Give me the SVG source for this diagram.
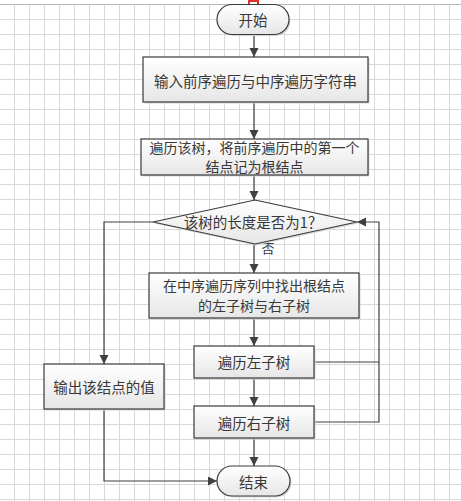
<svg xmlns="http://www.w3.org/2000/svg" width="461" height="501" viewBox="0 0 461 501">
<style>
.box{fill:url(#g);stroke:#3a3a3a;stroke-width:1.2}
.sh{fill:#d6d6d6}
.t{font-family:"Noto Sans CJK SC","Noto Sans",sans-serif;font-size:14.5px;fill:#383838;text-anchor:middle;dominant-baseline:central}
.t2{font-size:14px}
.c{fill:none;stroke:#404040;stroke-width:1.2}
</style>
<defs>
<linearGradient id="g" x1="0" y1="0" x2="0" y2="1">
<stop offset="0" stop-color="#ffffff"/>
<stop offset="1" stop-color="#e6e6e6"/>
</linearGradient>
<pattern id="grid" patternUnits="userSpaceOnUse" x="14" y="4" width="15" height="15">
<path d="M0.5 0V15M0 0.5H15" fill="none" stroke="#d9d9d9" stroke-width="1"/>
</pattern>
<marker id="a" markerUnits="userSpaceOnUse" markerWidth="10" markerHeight="10" refX="9" refY="4.5" orient="auto">
<path d="M0 0L9 4.5L0 9z" fill="#404040"/>
</marker>
</defs>
<rect width="461" height="501" fill="#fff"/>
<rect x="0" y="4" width="461" height="497" fill="url(#grid)"/>
<line x1="0" y1="4.5" x2="461" y2="4.5" stroke="#b8b8b8" stroke-width="1"/>
<rect x="249" y="1" width="9" height="6" fill="#fff" stroke="#e03030" stroke-width="2"/>

<g id="connectors">
<path class="c" d="M254 34V57" marker-end="url(#a)"/>
<path class="c" d="M254 102V139" marker-end="url(#a)"/>
<path class="c" d="M254 175V200" marker-end="url(#a)"/>
<path class="c" d="M254 244V273" marker-end="url(#a)"/>
<path class="c" d="M254 318V346" marker-end="url(#a)"/>
<path class="c" d="M254 378V406" marker-end="url(#a)"/>
<path class="c" d="M254 438V466" marker-end="url(#a)"/>
<path class="c" d="M153 222H104V364" marker-end="url(#a)"/>
<path class="c" d="M104 409V481H217" marker-end="url(#a)"/>
<path class="c" d="M314 362H379"/>
<path class="c" d="M314 422H379V222H357" marker-end="url(#a)"/>
<text class="t" x="268" y="247" style="font-size:13px">否</text>
</g>

<g id="start">
<rect class="sh" x="218.5" y="6" width="72" height="30" rx="15"/>
<rect class="box" x="217" y="4.5" width="72" height="30" rx="15"/>
<text class="t" x="253" y="19.5">开始</text>
</g>
<g id="input">
<rect class="sh" x="144.5" y="58.5" width="225" height="45"/>
<rect class="box" x="143" y="57" width="225" height="45"/>
<text class="t" x="255.5" y="80">输入前序遍历与中序遍历字符串</text>
</g>
<g id="root">
<rect class="sh" x="142.5" y="140.5" width="227" height="36"/>
<rect class="box" x="141" y="139" width="227" height="36"/>
<text class="t t2" x="254.5" y="146.5">遍历该树，将前序遍历中的第一个</text>
<text class="t t2" x="254.5" y="166">结点记为根结点</text>
</g>
<g id="decision">
<path class="sh" d="M256 201.5L358.5 223.5L256 245.5L154.5 223.5z"/>
<path class="box" d="M255 200L357 222L255 244L153 222z"/>
<text class="t" x="253" y="221.5">该树的长度是否为1？</text>
</g>
<g id="find">
<rect class="sh" x="150.5" y="274.5" width="210" height="45"/>
<rect class="box" x="149" y="273" width="210" height="45"/>
<text class="t t2" x="254" y="285">在中序遍历序列中找出根结点</text>
<text class="t t2" x="254" y="305">的左子树与右子树</text>
</g>
<g id="left">
<rect class="sh" x="195.5" y="347.5" width="120" height="32"/>
<rect class="box" x="194" y="346" width="120" height="32"/>
<text class="t" x="254" y="361.5">遍历左子树</text>
</g>
<g id="right">
<rect class="sh" x="195.5" y="407.5" width="120" height="32"/>
<rect class="box" x="194" y="406" width="120" height="32"/>
<text class="t" x="254" y="422">遍历右子树</text>
</g>
<g id="output">
<rect class="sh" x="45.5" y="365.5" width="120" height="45"/>
<rect class="box" x="44" y="364" width="120" height="45"/>
<text class="t" x="104" y="386.5">输出该结点的值</text>
</g>
<g id="end">
<rect class="sh" x="218.5" y="467.5" width="73" height="30" rx="15"/>
<rect class="box" x="217" y="466" width="73" height="30" rx="15"/>
<text class="t" x="253.5" y="481">结束</text>
</g>
</svg>
